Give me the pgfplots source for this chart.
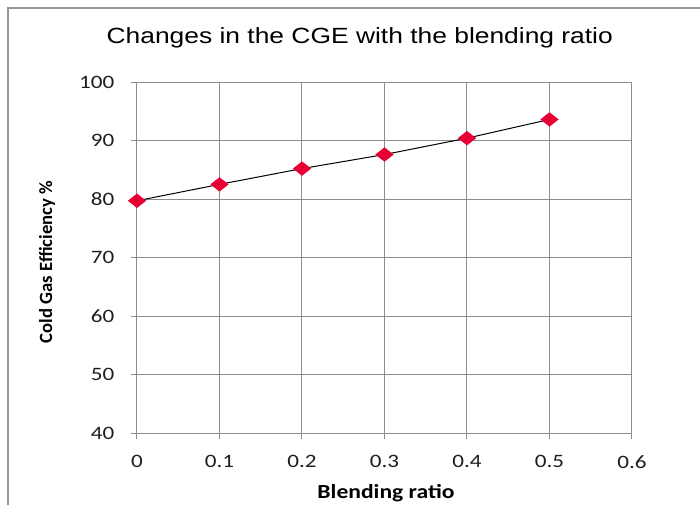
\documentclass[border=0pt]{standalone}
\usepackage{pgfplots}
\pgfplotsset{compat=1.18}
\usepackage{fontspec}
\setmainfont{Carlito}
\newfontfamily\titlefont[FakeStretch=1.2]{Liberation Sans}
\newfontfamily\tickfont[FakeStretch=1.22]{Carlito}
\newfontfamily\labfont[FakeStretch=1.18]{Carlito}
\definecolor{gridgray}{RGB}{140,140,140}
\definecolor{framegray}{RGB}{150,150,150}
\definecolor{mkred}{RGB}{232,0,52}
\definecolor{txt}{RGB}{30,30,30}
\begin{document}
\begin{tikzpicture}
\useasboundingbox (0,0) rectangle (525pt,378pt);
\clip (0,0) rectangle (525pt,378pt);
\fill[white] (0,0) rectangle (525pt,378pt);
\draw[framegray, line width=1.5pt] (6pt,-10pt) -- (6pt,372pt) -- (540pt,372pt);
\begin{axis}[
  at={(102.75pt,53.25pt)}, anchor=south west,
  scale only axis,
  width=371.25pt, height=263.25pt,
  xmin=0, xmax=0.6, ymin=40, ymax=100,
  xtick={0,0.1,0.2,0.3,0.4,0.5,0.6},
  ytick={40,50,60,70,80,90,100},
  xticklabels={0,0.1,0.2,0.3,0.4,0.5,0.6},
  grid=major,
  grid style={gridgray, line width=0.75pt},
  axis line style={gridgray, line width=0.75pt},
  tick style={gridgray, line width=0.75pt},
  tick align=outside,
  major tick length=4.5pt,
  xtick pos=bottom, ytick pos=left,
  ticklabel style={font=\tickfont\fontsize{14.2pt}{16pt}\selectfont, text=txt},
  /pgf/number format/assume math mode=true,
  yticklabel style={xshift=-9pt},
  xticklabel style={yshift=-9pt},
  title={\titlefont\fontsize{16.5pt}{19pt}\selectfont Changes in the CGE with the blending ratio},
  title style={at={(axis description cs:0.45,1)}, anchor=center, yshift=27pt, text=black},
  xlabel={\labfont\bfseries\fontsize{15pt}{17pt}\selectfont Blending ratio},
  xlabel style={at={(axis description cs:0.503,0)}, anchor=base, yshift=-49pt, text=black},
  ylabel={\bfseries\fontsize{14pt}{16pt}\selectfont Cold Gas Efficiency \%},
  ylabel style={at={(axis description cs:0,0.487)}, anchor=center, yshift=67.5pt, text=black},
]
\addplot[black, line width=0.75pt, mark=diamond*, mark size=4.9pt,
  mark options={fill=mkred, draw=mkred, xscale=1.7}]
  coordinates {(0,79.7) (0.1,82.5) (0.2,85.2) (0.3,87.6) (0.4,90.4) (0.5,93.6)};
\end{axis}
\end{tikzpicture}
\end{document}
